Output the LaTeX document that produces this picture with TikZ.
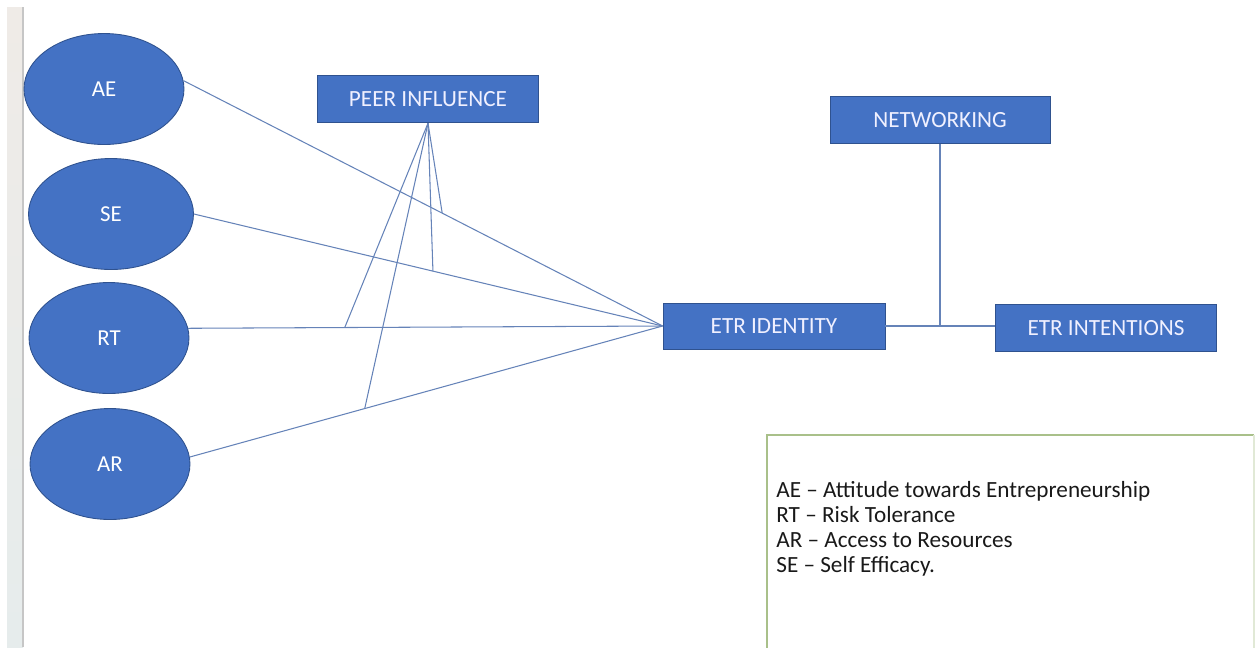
\documentclass[tikz,border=0pt]{standalone}
\usepackage{fontspec}
\setmainfont{Carlito}
\usetikzlibrary{shapes.geometric}
\definecolor{boxblue}{HTML}{4472C4}
\definecolor{boxedge}{HTML}{2F528F}
\definecolor{linkblue}{HTML}{6583B8}
\definecolor{legendgreen}{HTML}{A9C08A}
\definecolor{stripA}{HTML}{EFEBE7}
\definecolor{stripB}{HTML}{E6ECEC}
\tikzset{
	oval/.style={ellipse, fill=boxblue, draw=boxedge, line width=0.5pt, text=white,
		minimum width=3.2cm, minimum height=2.22cm, inner sep=0pt,
		font=\fontsize{13}{14}\selectfont},
	blk/.style={rectangle, fill=boxblue, draw=boxedge, line width=0.5pt, text=white!94!blue,
		minimum width=4.42cm, minimum height=0.95cm, inner sep=0pt,
		font=\fontsize{13.2}{14}\selectfont},
	link/.style={draw=linkblue, line width=0.6pt}
}
\begin{document}
\begin{tikzpicture}[x=0.02cm, y=-0.02cm]
		\useasboundingbox (0,0) rectangle (1255,647);
		% side strip
		\shade[top color=stripA, bottom color=stripB] (7,7) rectangle (23,647);
		\draw[gray!45, line width=0.8pt] (23,7) -- (23,647);
		% factors
		\node[oval] (ae) at (104,89) {AE};
		\node[oval, minimum width=3.3cm] (se) at (111,214) {SE};
		\node[oval] (rt) at (109,338) {RT};
		\node[oval] (ar) at (110,464) {AR};
		% boxes
		\node[blk] (peer) at (428,99) {PEER INFLUENCE};
		\node[blk, minimum width=4.4cm] (net) at (940,120) {NETWORKING};
		\node[blk, minimum width=4.44cm, minimum height=0.92cm] (id) at (774,326) {ETR IDENTITY};
		\node[blk] (int) at (1106,328) {ETR INTENTIONS};
		% paths to identity
		\draw[link] (ae.6) -- coordinate[pos=0.54] (mae) (id.west);
		\draw[link] (se.0) -- coordinate[pos=0.51] (mse) (id.west);
		\draw[link] (rt.7) -- coordinate[pos=0.33] (mrt) (id.west);
		\draw[link] (ar.5) -- coordinate[pos=0.37] (mar) (id.west);
		% moderator
		\draw[link] (peer.south) -- (mae);
		\draw[link] (peer.south) -- (mse);
		\draw[link] (peer.south) -- (mrt);
		\draw[link] (peer.south) -- (mar);
		% identity to intentions
		\coordinate (jn) at (net.south |- id.east);
		\draw[link] (id.east) -- (id.east -| int.west);
		\draw[link] (net.south) -- (jn);
		% legend
		\draw[legendgreen, line width=0.8pt] (767,650) -- (767,435) -- (1254,435);
		\draw[legendgreen!35, line width=0.6pt] (1254,435) -- (1254,650);
		\node[anchor=north west, align=left, inner sep=0pt, text=black!90,
			font=\fontsize{13.2}{14.2}\selectfont] (key) at (776,481)
			{AE -- Attitude towards Entrepreneurship\\
			RT -- Risk Tolerance\\
			AR -- Access to Resources\\
			SE -- Self Efficacy.};
	\end{tikzpicture}
\end{document}
